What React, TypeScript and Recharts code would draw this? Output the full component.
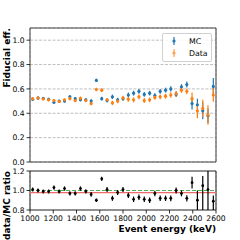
import {
  ComposedChart,
  Scatter,
  ErrorBar,
  XAxis,
  YAxis,
  CartesianGrid,
  ReferenceArea,
  ReferenceLine,
} from 'recharts';

// bin centres, 35 bins between 1000 and 2600 keV
const ENERGY = [
  1023, 1069, 1114, 1160, 1206, 1251, 1297, 1343, 1389, 1434, 1480, 1526, 1571, 1617, 1663, 1709, 1754, 1800,
  1846, 1891, 1937, 1983, 2029, 2074, 2120, 2166, 2211, 2257, 2303, 2349, 2394, 2440, 2486, 2531, 2577,
];
const MC_EFF = [
  0.515, 0.525, 0.522, 0.515, 0.49, 0.5, 0.5, 0.535, 0.52, 0.512, 0.51, 0.5, 0.67, 0.52, 0.505, 0.535, 0.51, 0.52,
  0.55, 0.565, 0.58, 0.555, 0.565, 0.545, 0.58, 0.59, 0.6, 0.555, 0.617, 0.636, 0.48, 0.47, 0.42, 0.38, 0.62,
];
const MC_ERR = [
  0.012, 0.012, 0.012, 0.012, 0.012, 0.012, 0.012, 0.014, 0.014, 0.014, 0.014, 0.015, 0.014, 0.015, 0.016, 0.018,
  0.018, 0.018, 0.02, 0.02, 0.02, 0.02, 0.02, 0.02, 0.02, 0.02, 0.022, 0.022, 0.022, 0.024, 0.05, 0.05, 0.07, 0.06,
  0.07,
];
const DATA_EFF = [
  0.52, 0.525, 0.518, 0.51, 0.505, 0.497, 0.51, 0.52, 0.505, 0.523, 0.505, 0.48, 0.595, 0.59, 0.51, 0.485, 0.5,
  0.525, 0.515, 0.51, 0.535, 0.505, 0.51, 0.53, 0.535, 0.54, 0.55, 0.56, 0.59, 0.58, 0.52, 0.42, 0.44, 0.385, 0.55,
];
const DATA_ERR = [
  0.012, 0.012, 0.012, 0.012, 0.012, 0.012, 0.012, 0.014, 0.014, 0.014, 0.014, 0.015, 0.014, 0.015, 0.016, 0.018,
  0.018, 0.018, 0.02, 0.02, 0.02, 0.02, 0.02, 0.02, 0.02, 0.02, 0.022, 0.022, 0.022, 0.024, 0.05, 0.06, 0.07, 0.08,
  0.055,
];
const RATIO = [
  1.01, 1.0, 0.99, 0.99, 1.03, 0.99, 1.02, 0.97, 0.97, 1.02, 0.99, 0.96, 0.9, 1.12, 1.01, 0.92, 0.98, 1.01, 0.95,
  0.91, 0.93, 0.91, 0.9, 0.97, 0.92, 0.92, 0.92, 1.0, 0.97, 0.92, 1.08, 0.9, 1.05, 1.01, 0.89,
];
// lower / upper ratio uncertainties (the last bins are asymmetric and run off the panel)
const RATIO_ERR_LO = [
  0.02, 0.02, 0.02, 0.02, 0.022, 0.02, 0.022, 0.022, 0.022, 0.022, 0.022, 0.024, 0.018, 0.022, 0.025, 0.026, 0.026,
  0.026, 0.028, 0.028, 0.028, 0.028, 0.028, 0.028, 0.028, 0.028, 0.03, 0.03, 0.03, 0.032, 0.06, 0.1, 0.25, 0.21,
  0.09,
];
const RATIO_ERR_HI = [
  0.02, 0.02, 0.02, 0.02, 0.022, 0.02, 0.022, 0.022, 0.022, 0.022, 0.022, 0.024, 0.018, 0.022, 0.025, 0.026, 0.026,
  0.026, 0.028, 0.028, 0.028, 0.028, 0.028, 0.028, 0.028, 0.028, 0.03, 0.03, 0.03, 0.032, 0.06, 0.1, 0.1, 0.19,
  0.06,
];
const RATIO_MEAN = 0.978;

const X_TICKS = [1000, 1200, 1400, 1600, 1800, 2000, 2200, 2400, 2600];
const EFF_TICKS = [0, 0.2, 0.4, 0.6, 0.8, 1.0];
const RATIO_TICKS = [0.8, 1.0, 1.2];

const MC_COLOR = '#1f77b4';
const DATA_COLOR = '#ff7f0e';
const FONT = "'DejaVu Sans', sans-serif";
const GRID = '#b0b0b0';
const tickStyle = { fontSize: 7.6, fill: '#000', fontFamily: FONT };

const mcRows = ENERGY.map((x, i) => ({ x, y: MC_EFF[i], err: MC_ERR[i] }));
const dataRows = ENERGY.map((x, i) => ({ x, y: DATA_EFF[i], err: DATA_ERR[i] }));
const ratioRows = ENERGY.map((x, i) => ({ x, y: RATIO[i], err: [RATIO_ERR_LO[i], RATIO_ERR_HI[i]] }));

const dot = (color: string, r: number) => (p: any) => <circle cx={p.cx} cy={p.cy} r={r} fill={color} />;

// x tick mark + label hung off an invisible reference line, so no tick gets culled
const xTickLabel = (value: number) => (p: any) => {
  const vb = p.viewBox;
  const bottom = vb.y + vb.height;
  return (
    <g>
      <line x1={vb.x} x2={vb.x} y1={bottom} y2={bottom + 3.5} stroke="#000" strokeWidth={0.8} />
      <text x={vb.x} y={bottom + 5.5} dy="0.71em" textAnchor="middle" fontSize={7.6} fill="#000" fontFamily={FONT}>
        {value}
      </text>
    </g>
  );
};

function LegendBox() {
  const item = (label: string, color: string, opacity: number) => (
    <div style={{ display: 'flex', alignItems: 'center', height: 12 }}>
      <svg width={22} height={12} style={{ opacity }}>
        <line x1={11} x2={11} y1={2} y2={10} stroke={color} strokeWidth={1.2} />
        <circle cx={11} cy={6} r={1.6} fill={color} />
      </svg>
      <span style={{ marginLeft: 4 }}>{label}</span>
    </div>
  );
  return (
    <div
      style={{
        position: 'absolute',
        left: 162,
        top: 33,
        width: 48,
        height: 25,
        padding: '1px 0',
        background: 'rgba(255,255,255,0.85)',
        border: '1px solid #d0d0d0',
        borderRadius: 2,
        fontFamily: FONT,
        fontSize: 7.8,
        color: '#000',
      }}
    >
      {item('MC', MC_COLOR, 1)}
      {item('Data', DATA_COLOR, 0.75)}
    </div>
  );
}

export default function App() {
  return (
    <div style={{ position: 'absolute', left: 0, top: 0, width: 240, height: 240, background: '#fff' }}>
      <svg
        width={240}
        height={240}
        style={{ position: 'absolute', left: 0, top: 0, pointerEvents: 'none' }}
        fontFamily={FONT}
        fontWeight="bold"
        fontSize={9}
      >
        <text transform="translate(9.5,28) rotate(-90)" textAnchor="end">
          Fiducial eff.
        </text>
        <text transform="translate(9.5,171) rotate(-90)" textAnchor="end">
          data/MC ratio
        </text>
        <text x={216} y={232} textAnchor="end">
          Event energy (keV)
        </text>
      </svg>

      <div style={{ position: 'absolute', left: 0, top: 0, width: 240, height: 170 }}>
        <ComposedChart width={240} height={170} margin={{ top: 28, right: 24, left: 0, bottom: 8 }}>
          <CartesianGrid stroke={GRID} strokeDasharray="3 1.5" strokeWidth={0.8} />
          <XAxis
            type="number"
            dataKey="x"
            domain={[1000, 2600]}
            ticks={X_TICKS}
            interval={0}
            allowDataOverflow
            height={0}
            tick={false}
            axisLine={false}
            tickLine={false}
          />
          <YAxis
            type="number"
            dataKey="y"
            domain={[0, 1.1]}
            ticks={EFF_TICKS}
            allowDataOverflow
            width={30}
            tick={tickStyle}
            tickFormatter={(v: number) => v.toFixed(1)}
            tickSize={3.5}
            tickMargin={2}
            tickLine={{ stroke: '#000', strokeWidth: 0.8 }}
            axisLine={false}
            interval={0}
          />
          <ReferenceArea x1={1000} x2={2600} y1={0} y2={1.1} fill="none" stroke="#444" strokeWidth={1} />
          <Scatter data={mcRows} name="MC" shape={dot(MC_COLOR, 1.6)} isAnimationActive={false}>
            <ErrorBar dataKey="err" direction="y" width={0} stroke={MC_COLOR} strokeWidth={1.2} />
          </Scatter>
          <Scatter
            data={dataRows}
            name="Data"
            shape={dot(DATA_COLOR, 1.6)}
            opacity={0.75}
            isAnimationActive={false}
          >
            <ErrorBar dataKey="err" direction="y" width={0} stroke={DATA_COLOR} strokeWidth={1.2} />
          </Scatter>
        </ComposedChart>
        <LegendBox />
      </div>

      <div style={{ position: 'absolute', left: 0, top: 160, width: 240, height: 80 }}>
        <ComposedChart width={240} height={80} margin={{ top: 11, right: 24, left: 0, bottom: 0 }}>
          <CartesianGrid stroke={GRID} strokeDasharray="3 1.5" strokeWidth={0.8} horizontal={false} />
          <XAxis
            type="number"
            dataKey="x"
            domain={[1000, 2600]}
            ticks={X_TICKS}
            interval={0}
            allowDataOverflow
            height={30}
            tick={false}
            tickLine={false}
            axisLine={false}
          />
          <YAxis
            type="number"
            dataKey="y"
            domain={[0.8, 1.2]}
            ticks={RATIO_TICKS}
            interval={0}
            allowDataOverflow
            width={30}
            tick={tickStyle}
            tickFormatter={(v: number) => v.toFixed(1)}
            tickSize={3.5}
            tickMargin={2}
            tickLine={{ stroke: '#000', strokeWidth: 0.8 }}
            axisLine={false}
          />
          {X_TICKS.map((t) => (
            <ReferenceLine key={t} x={t} stroke="none" label={xTickLabel(t)} />
          ))}
          <ReferenceLine y={1} stroke="#4caf50" strokeDasharray="4 2" strokeWidth={1} />
          <ReferenceLine y={RATIO_MEAN} stroke="#f06a6a" strokeWidth={1.2} />
          <ReferenceArea x1={1000} x2={2600} y1={0.8} y2={1.2} fill="none" stroke="#222" strokeWidth={1} />
          <Scatter data={ratioRows} shape={dot('#000', 1.4)} isAnimationActive={false}>
            <ErrorBar dataKey="err" direction="y" width={0} stroke="#000" strokeWidth={1.2} />
          </Scatter>
        </ComposedChart>
      </div>
    </div>
  );
}
